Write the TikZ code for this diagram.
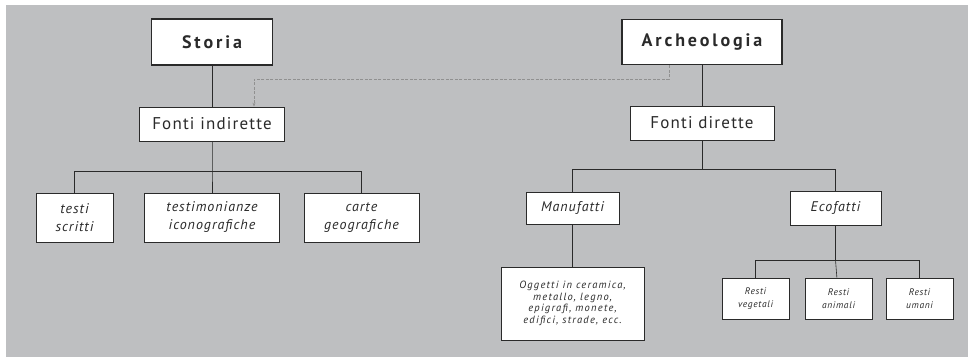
\documentclass[tikz,border=0pt]{standalone}
\usepackage{fontspec}
\setmainfont{PT Sans}
\newfontfamily\headfont[LetterSpace=16]{PT Sans}
\newfontfamily\boxfont[LetterSpace=7]{PT Sans}
\newfontfamily\notefont[LetterSpace=12]{PT Sans}
\usetikzlibrary{arrows.meta, positioning, calc}
\definecolor{sheetgray}{HTML}{BEBFC1}
\definecolor{inkdark}{HTML}{2A2A2A}
\definecolor{linkgray}{HTML}{909090}

\begin{document}
\begin{tikzpicture}[
  x=1pt, y=-1pt,
  head/.style={
    rectangle, draw=inkdark, line width=1.6pt, fill=white,
    font=\headfont\bfseries\fontsize{18}{21}\selectfont, text=inkdark,
    inner sep=0pt
  },
  source/.style={
    rectangle, draw=inkdark, line width=0.7pt, fill=white,
    font=\boxfont\fontsize{17}{20}\selectfont, text=inkdark,
    inner sep=0pt, minimum height=34pt
  },
  item/.style={
    rectangle, draw=inkdark, line width=0.7pt, fill=white,
    font=\boxfont\itshape\fontsize{14}{18}\selectfont, text=inkdark,
    align=center, inner sep=0pt
  },
  small/.style={
    item, font=\notefont\itshape\fontsize{10.5}{11.5}\selectfont
  },
  tiny/.style={
    item, font=\boxfont\itshape\fontsize{9.5}{13}\selectfont
  },
  line/.style={draw=inkdark, line width=0.6pt},
  link/.style={
    draw=linkgray, line width=0.8pt, dashed, dash pattern=on 3pt off 1.5pt,
    -{Stealth[length=4pt, width=3pt]}
  }
]
  % background sheet
  \fill[white] (0,0) rectangle (968,359);
  \fill[sheetgray] (6,5) rectangle (968,357);

  % top level
  \node[head, minimum width=121pt, minimum height=46pt] (storia) at (212,42) {Storia};
  \node[head, minimum width=160pt, minimum height=45pt] (arch) at (702,42) {Archeologia};

  % sources
  \node[source, minimum width=145pt] (indir) at (212,124) {Fonti indirette};
  \node[source, minimum width=144pt] (dir) at (702,123) {Fonti dirette};

  % left branch
  \node[item, minimum width=77pt, minimum height=49pt] (testi) at (74.5,217.5) {testi\\scritti};
  \node[item, minimum width=135pt, minimum height=49pt] (icono) at (212,217.5) {testimonianze\\iconografiche};
  \node[item, minimum width=115pt, minimum height=49pt] (carte) at (361.5,217.5) {carte\\geografiche};

  % right branch
  \node[item, minimum width=93pt, minimum height=32pt] (manuf) at (572.5,208) {Manufatti};
  \node[item, minimum width=91pt, minimum height=34pt] (ecof) at (835.5,208) {Ecofatti};
  \node[small, minimum width=143pt, minimum height=73pt] (oggetti) at (572.5,303.5)
    {Oggetti in ceramica,\\metallo, legno,\\epigrafi, monete,\\edifici, strade, ecc.};
  \node[tiny, minimum width=67pt, minimum height=41pt] (veget) at (755.5,298.5) {Resti\\vegetali};
  \node[tiny, minimum width=67pt, minimum height=41pt] (anim) at (838.5,298.5) {Resti\\animali};
  \node[tiny, minimum width=67pt, minimum height=41pt] (umani) at (919.5,298.5) {Resti\\umani};

  % bus points
  \coordinate (lbus) at (212,171);
  \coordinate (rbus) at (702,169);
  \coordinate (ebus) at (835.5,260);

  \draw[line] (storia) -- (indir);
  \draw[line] (arch) -- (dir);

  \draw[line] (indir) -- (lbus) -- (icono);
  \draw[line] (lbus) -| (testi);
  \draw[line] (lbus) -| (carte);

  \draw[line] (dir) -- (rbus);
  \draw[line] (rbus) -| (manuf);
  \draw[line] (rbus) -| (ecof);
  \draw[line] (manuf) -- (oggetti);

  \draw[line] (ecof) -- (ebus);
  \draw[line] (ebus) -| (veget);
  \draw[line] (ebus) -- (anim);
  \draw[line] (ebus) -| (umani);

  % dashed link between the two disciplines
  \coordinate (lkA) at (669,79);
  \coordinate (lkB) at (254,79);
  \draw[link] (arch.south -| lkA) -- (lkA) -- (lkB) -- (lkB |- indir.north);
\end{tikzpicture}
\end{document}
